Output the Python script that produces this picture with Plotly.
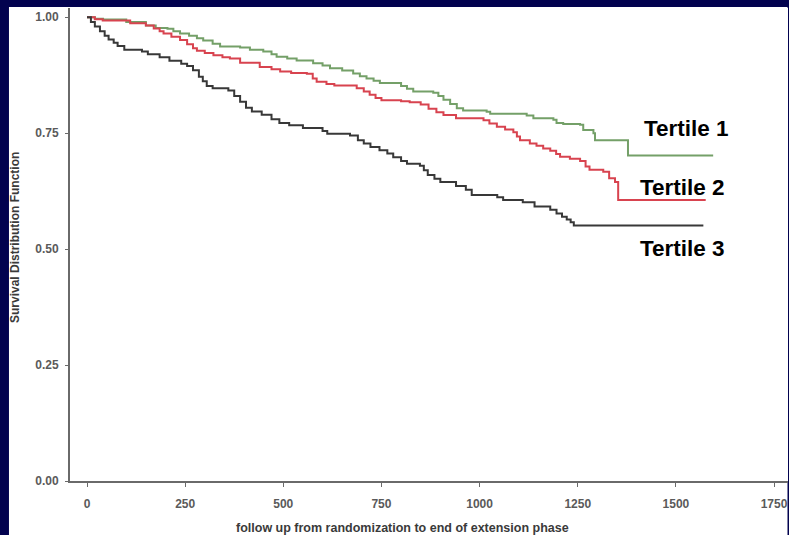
import plotly.graph_objects as go

# Kaplan-Meier step data (days, survival) for each tertile
t1_days = [0, 20, 41, 100, 150, 175, 205, 220, 237, 260, 280, 296, 320, 339, 390, 415, 449, 470,
           483, 510, 534, 576, 600, 619, 650, 678, 695, 712, 730, 746, 800, 815, 831, 882, 895,
           908, 925, 942, 958, 1018, 1027, 1120, 1137, 1188, 1196, 1213, 1256, 1264, 1290, 1294,
           1378, 1595]
t1_surv = [1.000, 0.997, 0.995, 0.990, 0.982, 0.977, 0.975, 0.970, 0.965, 0.960, 0.955, 0.950,
           0.943, 0.937, 0.935, 0.930, 0.926, 0.920, 0.915, 0.911, 0.907, 0.901, 0.896, 0.890,
           0.885, 0.879, 0.873, 0.868, 0.863, 0.858, 0.852, 0.846, 0.840, 0.837, 0.830, 0.822,
           0.813, 0.804, 0.799, 0.796, 0.792, 0.788, 0.782, 0.779, 0.772, 0.770, 0.768, 0.757,
           0.750, 0.735, 0.702, 0.702]

t2_days = [0, 20, 40, 110, 150, 170, 185, 195, 215, 237, 255, 270, 280, 300, 322, 345, 364, 390,
           440, 470, 492, 520, 560, 575, 585, 610, 630, 687, 705, 720, 735, 750, 800, 822, 850,
           870, 890, 908, 940, 1010, 1025, 1044, 1065, 1086, 1095, 1103, 1128, 1145, 1162, 1180,
           1195, 1205, 1230, 1256, 1270, 1280, 1315, 1330, 1345, 1353, 1576]
t2_surv = [1.000, 0.996, 0.993, 0.987, 0.982, 0.976, 0.970, 0.965, 0.958, 0.951, 0.942, 0.933,
           0.928, 0.923, 0.918, 0.914, 0.911, 0.902, 0.893, 0.888, 0.883, 0.880, 0.878, 0.868,
           0.861, 0.856, 0.853, 0.847, 0.840, 0.833, 0.826, 0.821, 0.819, 0.817, 0.812, 0.803,
           0.795, 0.789, 0.782, 0.778, 0.771, 0.764, 0.758, 0.752, 0.743, 0.735, 0.728, 0.723,
           0.717, 0.712, 0.705, 0.699, 0.695, 0.690, 0.678, 0.671, 0.667, 0.653, 0.645, 0.606,
           0.606]

t3_days = [0, 10, 20, 33, 45, 55, 68, 78, 95, 140, 155, 185, 210, 240, 255, 270, 285, 295, 305,
           320, 360, 375, 390, 405, 420, 445, 470, 490, 515, 550, 600, 612, 670, 690, 705, 722,
           745, 765, 780, 800, 815, 848, 858, 868, 885, 900, 940, 965, 980, 1045, 1060, 1110,
           1140, 1180, 1196, 1210, 1222, 1232, 1240, 1570]
t3_surv = [1.000, 0.990, 0.980, 0.970, 0.960, 0.952, 0.945, 0.938, 0.930, 0.926, 0.920, 0.914,
           0.906, 0.900, 0.895, 0.886, 0.872, 0.862, 0.852, 0.847, 0.842, 0.830, 0.818, 0.805,
           0.797, 0.790, 0.780, 0.772, 0.767, 0.761, 0.755, 0.749, 0.745, 0.735, 0.728, 0.720,
           0.713, 0.706, 0.698, 0.690, 0.684, 0.680, 0.670, 0.660, 0.652, 0.645, 0.636, 0.628,
           0.617, 0.612, 0.606, 0.601, 0.592, 0.585, 0.577, 0.570, 0.564, 0.558, 0.551, 0.551]

series_names = ["Tertile 1", "Tertile 2", "Tertile 3"]
x_ticks = [0, 250, 500, 750, 1000, 1250, 1500, 1750]
y_ticks = [0.00, 0.25, 0.50, 0.75, 1.00]

NAVY = "#02024f"
colors = ["#74a068", "#d8434f", "#383838"]

fig = go.Figure()
for days, surv, name, col in [(t1_days, t1_surv, series_names[0], colors[0]),
                              (t2_days, t2_surv, series_names[1], colors[1]),
                              (t3_days, t3_surv, series_names[2], colors[2])]:
    fig.add_trace(go.Scatter(x=days, y=surv, mode="lines", name=name,
                             line=dict(color=col, width=2, shape="hv")))

# curve labels at the right-hand end of each curve
label_pos = [(1528, 0.761), (1518, 0.634), (1518, 0.502)]
for name, (lx, ly) in zip(series_names, label_pos):
    fig.add_annotation(x=lx, y=ly, xref="x", yref="y", text="<b>%s</b>" % name,
                       xanchor="center", yanchor="middle", showarrow=False,
                       font=dict(family="Liberation Sans, Arial", size=22.5, color="#000000"))

# axis titles
fig.add_annotation(x=0.4624, y=-0.0994, xref="paper", yref="paper",
                   xanchor="center", yanchor="middle",
                   text="<b>follow up from randomization to end of extension phase</b>",
                   showarrow=False, font=dict(family="Liberation Sans, Arial", size=12.5,
                                              color="#3a3a3a"))
fig.add_annotation(x=-0.0766, y=0.5137, xref="paper", yref="paper", textangle=-90,
                   xanchor="center", yanchor="middle",
                   text="<b>Survival Distribution Function</b>",
                   showarrow=False, font=dict(family="Liberation Sans, Arial", size=12,
                                              color="#3a3a3a"))

# white slide panel behind the chart
fig.add_shape(type="rect", xref="paper", yref="paper", x0=-0.085, x1=0.9993,
              y0=-0.13, y1=1.0021, fillcolor="white", line=dict(width=0), layer="below")

tick_font = dict(family="Liberation Sans, Arial", size=12, color="#5a5a5a", weight="bold")
fig.update_xaxes(range=[-43.3, 1785.6], tickvals=x_ticks, ticktext=[str(v) for v in x_ticks],
                 showgrid=False, zeroline=False, showline=True, linecolor="#6a6a6a",
                 linewidth=2, ticks="outside", ticklen=4, tickcolor="#6a6a6a",
                 tickfont=tick_font, ticklabelstandoff=7)
fig.update_yaxes(range=[0, 1.02], tickvals=y_ticks, ticktext=["%.2f" % v for v in y_ticks],
                 showgrid=False, zeroline=False, showline=True, linecolor="#6a6a6a",
                 linewidth=2, ticks="outside", ticklen=3, tickcolor="#6a6a6a",
                 tickfont=tick_font, ticklabelstandoff=4)

fig.update_layout(width=789, height=535, margin=dict(l=70, r=1, t=8, b=54),
                  paper_bgcolor=NAVY, plot_bgcolor="white", showlegend=False,
                  font=dict(family="Liberation Sans, Arial"))

fig.write_html("out.html")
